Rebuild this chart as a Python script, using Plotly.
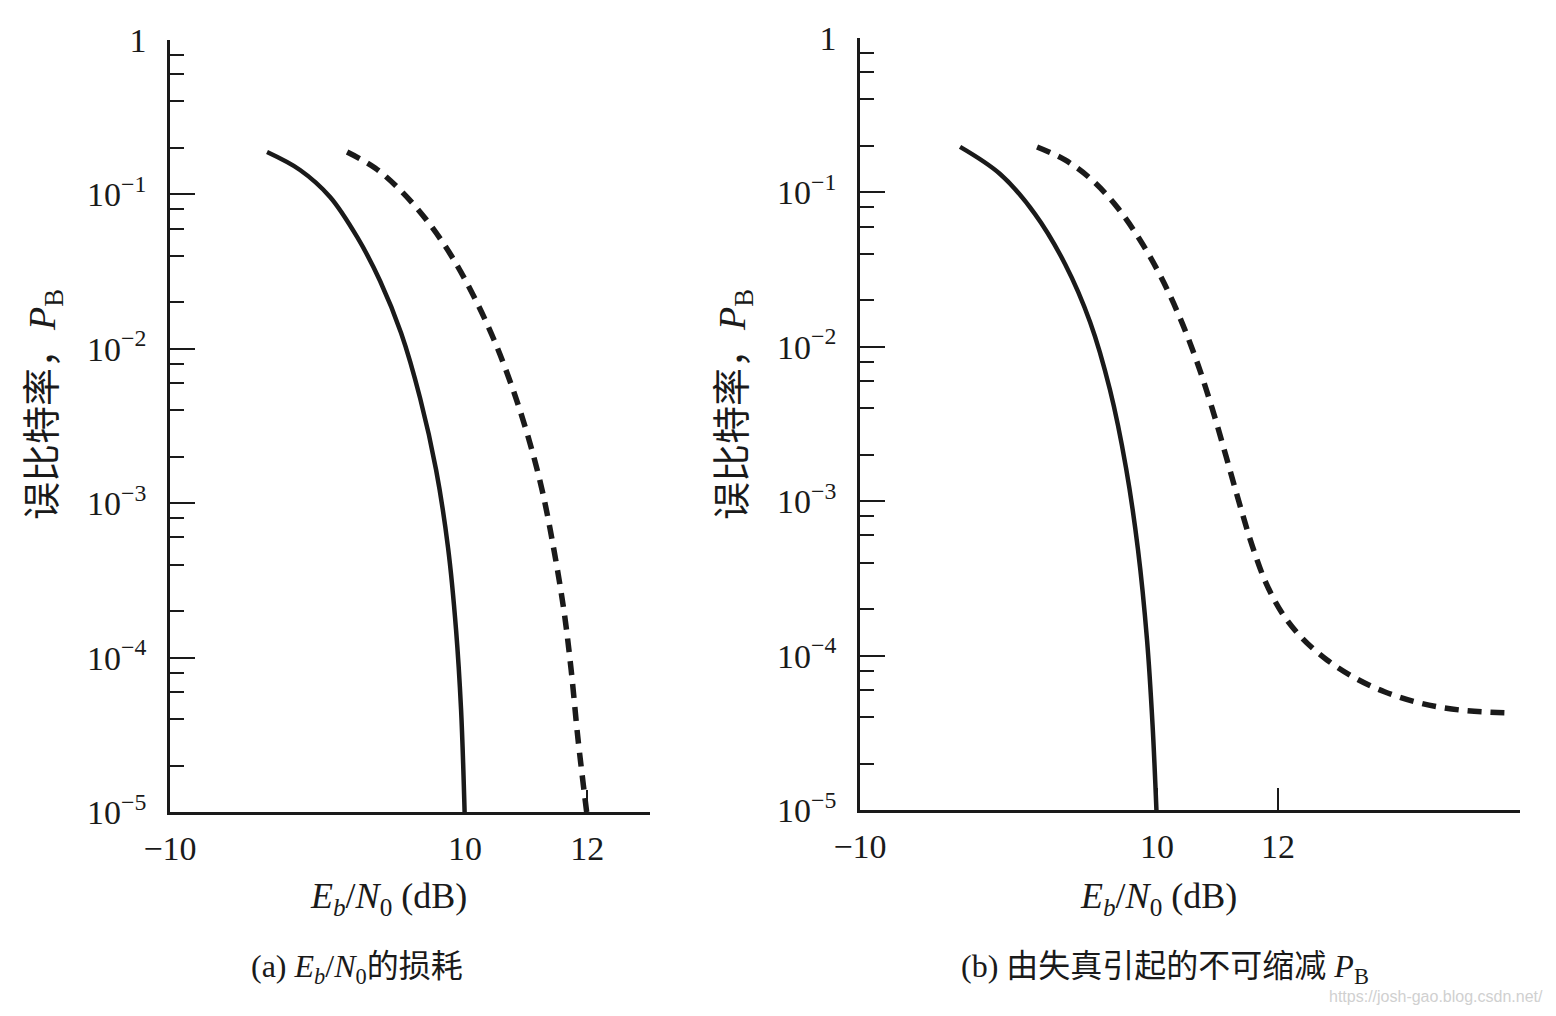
import plotly.graph_objects as go

# ---------------- data ----------------
# panel (a): Eb/N0 loss
a_solid_x = [6.754, 7.295, 7.787, 8.230, 8.607, 8.951, 9.262, 9.525, 9.721, 9.852, 9.934, 9.992]
a_solid_y = [0.188, 0.1439, 0.0962, 0.0530, 0.0275, 0.01265, 4.80e-3, 1.64e-3, 5.13e-4, 1.51e-4, 4.58e-5, 1e-5]
a_dash_x = [8.066, 8.525, 8.967, 9.393, 9.787, 10.148, 10.475, 10.770, 11.033, 11.262, 11.459, 11.623,
            11.738, 11.852, 11.992]
a_dash_y = [0.188, 0.1483, 0.1037, 0.0663, 0.0393, 0.02165, 0.01140, 5.66e-3, 2.69e-3, 1.217e-3, 4.90e-4,
            1.97e-4, 8.31e-5, 2.92e-5, 1e-5]
# panel (b): irreducible PB caused by distortion
b_solid_x = [6.744, 7.405, 7.983, 8.479, 8.893, 9.223, 9.488, 9.686, 9.835, 9.926, 9.99]
b_solid_y = [0.197, 0.1315, 0.0724, 0.0344, 0.01449, 5.25e-3, 1.64e-3, 4.83e-4, 1.26e-4, 3.56e-5, 1e-5]
b_dash_x = [8.017, 8.479, 8.926, 9.339, 9.719, 10.066, 10.380, 10.661, 10.909, 11.140, 11.355, 11.570,
            11.802, 12.066, 12.397, 12.810, 13.273, 13.769, 14.347, 15.008, 15.835]
b_dash_y = [0.1968, 0.1622, 0.1203, 0.0804, 0.0492, 0.0283, 0.01537, 7.97e-3, 4.02e-3, 1.96e-3, 9.88e-4,
            5.20e-4, 2.95e-4, 1.89e-4, 1.30e-4, 9.37e-5, 7.16e-5, 5.81e-5, 4.93e-5, 4.44e-5, 4.25e-5]

y_tickvals = [1e-5, 1e-4, 1e-3, 1e-2, 1e-1, 1]
y_ticktext = ["10<sup>−5</sup>", "10<sup>−4</sup>", "10<sup>−3</sup>", "10<sup>−2</sup>", "10<sup>−1</sup>", "1"]
minor_vals = [m * 10 ** e for e in range(-5, 0) for m in (2, 4, 6, 8)]

a_xrange = [5.164, 13.03]
b_xrange = [5.09, 16.0]
a_xticks = [a_xrange[0], 10, 12]
b_xticks = [b_xrange[0], 10, 12]
x_ticktext = ["−10", "10", "12"]

SERIF = "Liberation Serif, Noto Sans CJK SC"
INK = "#1a1a1a"

fig = go.Figure()
solid = dict(color=INK, width=4.5, shape="spline", smoothing=1.0)
dash = dict(color=INK, width=5.5, dash="14px,9px", shape="spline", smoothing=1.0)
fig.add_trace(go.Scatter(x=a_solid_x, y=a_solid_y, mode="lines", line=solid, xaxis="x", yaxis="y"))
fig.add_trace(go.Scatter(x=a_dash_x, y=a_dash_y, mode="lines", line=dash, xaxis="x", yaxis="y"))
fig.add_trace(go.Scatter(x=b_solid_x, y=b_solid_y, mode="lines", line=solid, xaxis="x2", yaxis="y2"))
fig.add_trace(go.Scatter(x=b_dash_x, y=b_dash_y, mode="lines", line=dash, xaxis="x2", yaxis="y2"))


def yax(domain, anchor):
    return dict(
        type="log", range=[-5, 0], domain=domain, anchor=anchor, automargin=False,
        tickmode="array", tickvals=y_tickvals, ticktext=y_ticktext,
        ticks="inside", ticklen=25, tickwidth=2, tickcolor=INK,
        showline=True, linewidth=2.5, linecolor=INK, showgrid=False, zeroline=False,
        tickfont=dict(family=SERIF, size=34, color=INK), ticklabelstandoff=14,
        minor=dict(tickmode="array", tickvals=minor_vals, ticks="inside", ticklen=14,
                   tickwidth=2, tickcolor=INK, showgrid=False),
    )


def xax(domain, anchor, rng, tv):
    return dict(
        range=rng, domain=domain, anchor=anchor, automargin=False,
        tickmode="array", tickvals=tv, ticktext=x_ticktext,
        ticks="inside", ticklen=22, tickwidth=1.5, tickcolor=INK,
        showline=True, linewidth=2.5, linecolor=INK, showgrid=False, zeroline=False,
        tickfont=dict(family=SERIF, size=34, color=INK), ticklabelstandoff=4,
    )


W, H = 1556, 1016
fig.update_layout(
    width=W, height=H, margin=dict(l=0, r=0, t=0, b=0, autoexpand=False),
    paper_bgcolor="white", plot_bgcolor="white", showlegend=False,
    xaxis=xax([170 / W, 650 / W], "y", a_xrange, a_xticks),
    yaxis=yax([1 - 812 / H, 1 - 40 / H], "x"),
    xaxis2=xax([860 / W, 1520 / W], "y2", b_xrange, b_xticks),
    yaxis2=yax([1 - 810 / H, 1 - 38 / H], "x2"),
)

xlabel = "<i>E<sub>b</sub></i>/<i>N</i><sub>0</sub> (dB)"
ylabel = "误比特率，<i>P</i><sub>B</sub>"
ann = [
    dict(x=388 / W, y=1 - 898 / H, text=xlabel, size=36),
    dict(x=1158 / W, y=1 - 898 / H, text=xlabel, size=36),
    dict(x=45 / W, y=1 - 405 / H, text=ylabel, size=38, angle=-90),
    dict(x=735 / W, y=1 - 405 / H, text=ylabel, size=38, angle=-90),
    dict(x=357 / W, y=1 - 968 / H, text="(a) <i>E<sub>b</sub></i>/<i>N</i><sub>0</sub>的损耗", size=32),
    dict(x=1165 / W, y=1 - 968 / H, text="(b) 由失真引起的不可缩减 <i>P</i><sub>B</sub>", size=32),
]
for a in ann:
    fig.add_annotation(x=a["x"], y=a["y"], xref="paper", yref="paper", text=a["text"],
                       showarrow=False, textangle=a.get("angle", 0),
                       font=dict(family=SERIF, size=a["size"], color=INK),
                       xanchor="center", yanchor="middle")
fig.add_annotation(x=1545 / W, y=1 - 996 / H, xref="paper", yref="paper",
                   text="https://josh-gao.blog.csdn.net/", showarrow=False,
                   font=dict(family="Liberation Sans", size=16, color="#d0d0d0"),
                   xanchor="right", yanchor="middle")

fig.write_html("out.html")
